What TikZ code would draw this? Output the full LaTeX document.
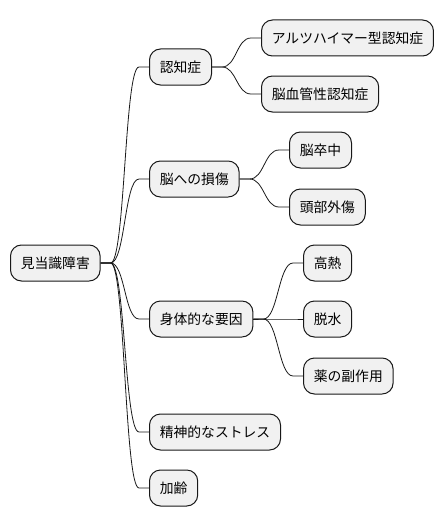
\documentclass[tikz,border=0pt]{standalone}
\usepackage{fontspec}
\setmainfont{Noto Sans CJK JP}
\usetikzlibrary{calc}
\definecolor{boxfill}{HTML}{F1F1F1}
\definecolor{boxline}{HTML}{181818}
\tikzstyle{block} = [rectangle, draw=boxline, fill=boxfill, line width=1pt,
    rounded corners=11pt, minimum height=36pt, inner xsep=10.3pt, anchor=west,
    font=\fontsize{13.8}{16}\selectfont]
\tikzstyle{line} = [draw=boxline, line width=0.8pt,
    to path={-- ++(10,0) .. controls +(14.5,0) and ($(\tikztotarget)+(-24.5,0)$) .. ($(\tikztotarget)+(-10,0)$) -- (\tikztotarget)}]

\begin{document}
\begin{tikzpicture}[x=1pt, y=-1pt]
    \useasboundingbox (0,0) rectangle (446,527);
    % Place nodes
    \node [block] (root) at (10,263) {見当識障害};
    \node [block] (dementia) at (149,67) {認知症};
    \node [block] (damage) at (149,179) {脳への損傷};
    \node [block] (body) at (149,319) {身体的な要因};
    \node [block] (stress) at (149,432) {精神的なストレス};
    \node [block] (aging) at (149,488) {加齢};
    \node [block] (alz) at (261,38) {アルツハイマー型認知症};
    \node [block] (vasc) at (261,94) {脳血管性認知症};
    \node [block] (stroke) at (289,150) {脳卒中};
    \node [block] (head) at (289,207) {頭部外傷};
    \node [block] (fever) at (303,263) {高熱};
    \node [block] (dehyd) at (303,319) {脱水};
    \node [block] (drug) at (303,376) {薬の副作用};
    % Draw edges
    \path [line] (root.east) to (dementia.west);
    \path [line] (root.east) to (damage.west);
    \path [line] (root.east) to (body.west);
    \path [line] (root.east) to (stress.west);
    \path [line] (root.east) to (aging.west);
    \path [line] (dementia.east) to (alz.west);
    \path [line] (dementia.east) to (vasc.west);
    \path [line] (damage.east) to (stroke.west);
    \path [line] (damage.east) to (head.west);
    \path [line] (body.east) to (fever.west);
    \path [line] (body.east) to (dehyd.west);
    \path [line] (body.east) to (drug.west);
\end{tikzpicture}
\end{document}
